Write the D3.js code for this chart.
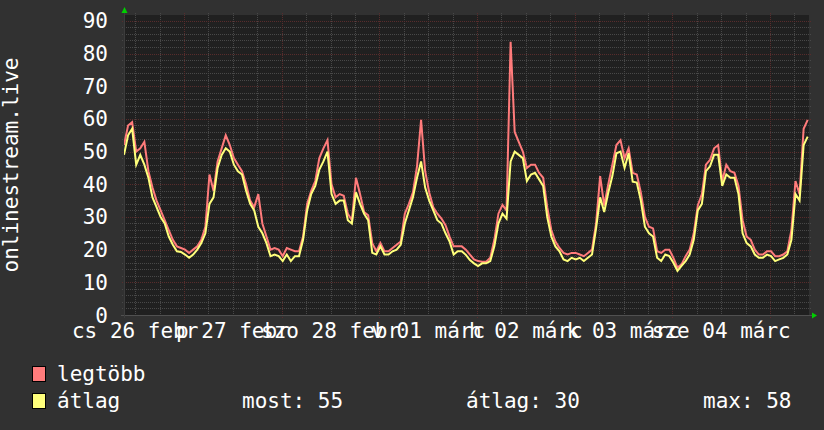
<!DOCTYPE html>
<html><head><meta charset="utf-8">
<script src="https://cdn.jsdelivr.net/npm/d3@7"></script>
<style>
html,body{margin:0;padding:0;background:#313131;}
svg{display:block;}
text{font-family:"DejaVu Sans Mono",monospace;fill:#ffffff;}
</style>
</head><body>
<svg id="chart" width="824" height="430"></svg>
<script>
// ---- data (hourly samples starting 2015-02-26 09:15) ----
const avgValues = [
  49,55,57,46,49,46,42,36,33,30,28,24,21.5,19.5,19.3,18.5,17.5,18.5,20,22,
  25,34,36,45,49,51,50,46,44,43,38,34,32,27,25,22,18,18.5,18,16.5,
  18.5,16.5,18,18,23,32,37,39.5,44.5,47,50,37,34,35,35,29,28,37.5,34,31,
  29,19,18.5,21,18.5,18.5,19.5,20,21.5,28,32,36,42,47,39,35,32,29,28,25,
  22.5,18.5,19.5,19.5,18.4,16.8,15.8,15,15.8,15.8,16.5,21,28,31,29.5,47,50,49,48,41,
  43,43.5,41.5,39.5,30,24,21,19.5,17,16.5,17.5,17,17.5,16.5,17.5,18.5,26.5,36,31.5,37.5,
  42.5,49.5,50,45,49.5,40.8,40.5,35,27,25,24,17.5,16.5,18.5,18,16,13.5,15,16.5,18.5,
  23,32,34,44,45.5,49,49,39.5,43,42,42,37,25,22,21,18.5,17.5,17.5,18.5,18,
  16.5,17,17.5,18.5,23,37,35,52,54.6
];
const maxValues = [
  52,58,59,50,51,53,44,39,35,32,29,26,23,21,20.5,20,19,20,21,23,
  27,43,38,47,51,55,52,48,46,44,40,35,33,37,28,24,20,20.5,20,18,
  20.5,20,19.5,19.5,24,34,38,41,48,51,53.5,40,36,37,36.5,31,29,42,37,31.5,
  30.5,22,19.5,22,19.5,19.5,20.5,21.5,22.5,31,34,37.5,45.5,59.7,44,37.5,33,31,29.5,27.5,
  24,21,21,21,20,18.5,17,16.5,16.3,16.3,17.5,23,31,33.7,32,83.6,56,53,50,45,
  46,46,43.5,42,33,26,22.5,20.5,19,18.5,19,19,18.5,18,19,20,28,42.5,33.5,40,
  46,52,53.5,48,51,43.5,43,37.5,30,27,26.5,19.5,19,20,20,17.5,14.5,15.5,18,20,
  25,33.5,37,46,47.5,51,52,41,46,44,43.5,39.5,29,24,23,20,18.5,18.5,19.5,19.5,
  18,18,18.5,19.5,26,41,37,57,59.7
];
const seriesNames = ["legtöbb", "átlag"];
const seriesColors = ["#ff7b7b", "#ffff7b"];
const yTickValues = [0,10,20,30,40,50,60,70,80,90];
const xTickLabels = ["cs 26 febr","p 27 febr","szo 28 febr","v 01 márc","h 02 márc","k 03 márc","sze 04 márc"];
const legendStats = ["most: 55", "átlag: 30", "max: 58"];
const axisTitle = "onlinestream.live";
const startTime = new Date(2015, 1, 26, 9, 15);
const firstLabelDay = new Date(2015, 1, 26);

// ---- layout ----
const plot = {left: 124, right: 809, top: 15, bottom: 315};
const endTime = new Date(+startTime + 168.32 * 3600e3);
const x = d3.scaleTime().domain([startTime, endTime]).range([plot.left, plot.right]);
const y = d3.scaleLinear().domain([0, 91.8]).range([plot.bottom, plot.top]);
const times = avgValues.map((_, i) => d3.timeHour.offset(startTime, i));

const svg = d3.select("#chart");
svg.append("rect").attr("width", 824).attr("height", 430).attr("fill", "#313131");
svg.append("rect").attr("x", plot.left).attr("y", plot.top)
  .attr("width", plot.right - plot.left).attr("height", plot.bottom - plot.top).attr("fill", "#202020");

const grid = svg.append("g").attr("shape-rendering", "crispEdges");
const minorColor = "#484848", majorColor = "#582c2c";
// horizontal minor
const minorY = d3.range(2, 92, 2).filter(v => v % 10 !== 0);
grid.selectAll(".hmin").data(minorY).join("line")
  .attr("x1", plot.left - 2).attr("x2", plot.right + 2)
  .attr("y1", d => Math.round(y(d)) + 0.5).attr("y2", d => Math.round(y(d)) + 0.5)
  .attr("stroke", minorColor).attr("stroke-dasharray", "1,1");
// vertical minor (6h)
const minorX = d3.timeHour.every(6).range(startTime, endTime).filter(d => d.getHours() !== 0);
grid.selectAll(".vmin").data(minorX).join("line")
  .attr("x1", d => Math.round(x(d)) + 0.5).attr("x2", d => Math.round(x(d)) + 0.5)
  .attr("y1", plot.top - 2).attr("y2", plot.bottom + 2)
  .attr("stroke", minorColor).attr("stroke-dasharray", "1,1");
// major
grid.selectAll(".hmaj").data(yTickValues.filter(v => v > 0)).join("line")
  .attr("x1", plot.left - 2).attr("x2", plot.right + 2)
  .attr("y1", d => Math.round(y(d)) + 0.5).attr("y2", d => Math.round(y(d)) + 0.5)
  .attr("stroke", majorColor).attr("stroke-dasharray", "1,1");
const majorX = d3.timeDay.range(startTime, endTime);
grid.selectAll(".vmaj").data(majorX).join("line")
  .attr("x1", d => Math.round(x(d)) + 0.5).attr("x2", d => Math.round(x(d)) + 0.5)
  .attr("y1", plot.top - 2).attr("y2", plot.bottom + 3)
  .attr("stroke", majorColor).attr("stroke-dasharray", "1,1");

// axes lines
svg.append("line").attr("x1", plot.left - 3).attr("x2", plot.right + 3)
  .attr("y1", plot.bottom + 0.5).attr("y2", plot.bottom + 0.5).attr("stroke", "#505050");
svg.append("line").attr("x1", plot.left + 0.5).attr("x2", plot.left + 0.5)
  .attr("y1", plot.top - 3).attr("y2", plot.bottom + 3).attr("stroke", "#3c3c3c");
svg.append("polygon").attr("points", `${plot.left-2.5},13 ${plot.left+3.5},13 ${plot.left+0.5},7`).attr("fill", "#00d000");
svg.append("polygon").attr("points", `${plot.right+3},${plot.bottom-2.5} ${plot.right+3},${plot.bottom+3.5} ${plot.right+8},${plot.bottom+0.5}`).attr("fill", "#00d000");

// series
const line = d3.line().x((d, i) => x(times[i])).y(d => y(d)).curve(d3.curveLinear);
svg.append("clipPath").attr("id", "pc").append("rect")
  .attr("x", plot.left).attr("y", plot.top).attr("width", plot.right - plot.left).attr("height", plot.bottom - plot.top);
const gLines = svg.append("g").attr("clip-path", "url(#pc)");
[maxValues, avgValues].forEach((vals, k) => {
  gLines.append("path").datum(vals).attr("d", line)
    .attr("fill", "none").attr("stroke", seriesColors[k]).attr("stroke-width", 2)
    .attr("stroke-linejoin", "miter");
});

// y tick labels
svg.append("g").selectAll("text").data(yTickValues).join("text")
  .attr("x", 108).attr("y", d => y(d) + 7.5).attr("text-anchor", "end")
  .attr("font-size", 21).text(d => d);

// x labels at noon of each day
svg.append("g").selectAll("text").data(xTickLabels).join("text")
  .attr("x", (d, i) => x(d3.timeHour.offset(d3.timeDay.offset(firstLabelDay, i), 12)))
  .attr("y", 338).attr("text-anchor", "middle").attr("font-size", 21).text(d => d);

// axis title
svg.append("text").attr("transform", "translate(18,165) rotate(-90)")
  .attr("text-anchor", "middle").attr("font-size", 21).text(axisTitle);

// legend
const leg = svg.append("g");
seriesNames.forEach((n, i) => {
  leg.append("rect").attr("x", 32.5).attr("y", 366.5 + i * 27).attr("width", 13).attr("height", 15)
    .attr("fill", seriesColors[i]).attr("stroke", "#000");
  leg.append("text").attr("x", 57).attr("y", 381 + i * 27).attr("font-size", 21).text(n);
});
[242, 466, 703].forEach((px, i) => {
  leg.append("text").attr("x", px).attr("y", 408).attr("font-size", 21).text(legendStats[i]);
});
</script>
</body></html>
